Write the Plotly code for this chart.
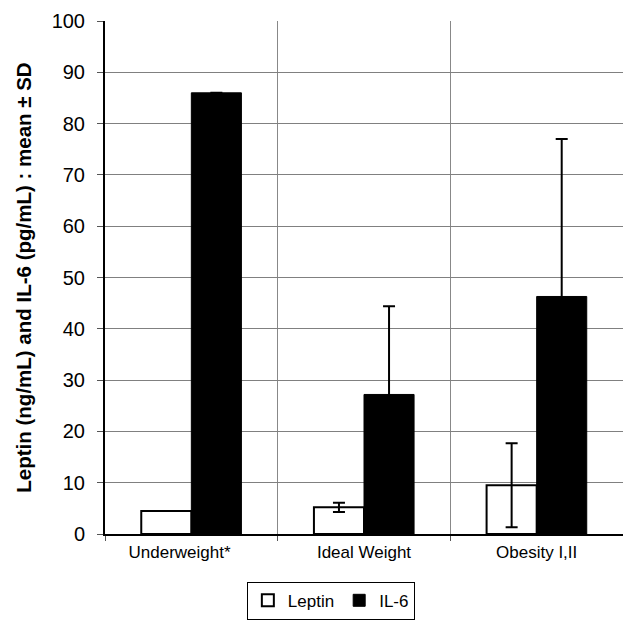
import plotly.graph_objects as go

categories = ["Underweight*", "Ideal Weight", "Obesity I,II"]
tick_labels = ["Underweight*\u00a0\u00a0\u00a0\u00a0\u00a0", "Ideal Weight", "Obesity I,II"]
leptin_mean = [4.5, 5.2, 9.5]
leptin_sd = [None, 0.9, 8.2]
il6_mean = [86, 27.2, 46.3]
il6_sd = [None, 17.2, 30.7]
y_ticks = [0, 10, 20, 30, 40, 50, 60, 70, 80, 90, 100]

fig = go.Figure()
fig.add_trace(go.Bar(
    name="Leptin", x=categories, y=leptin_mean,
    marker=dict(color="white", line=dict(color="black", width=2)),
    error_y=dict(type="data", array=leptin_sd, color="black", thickness=2, width=6),
))
fig.add_trace(go.Bar(
    name="IL-6", x=categories, y=il6_mean,
    marker=dict(color="black", line=dict(color="black", width=1)),
    error_y=dict(type="data", array=il6_sd, color="black", thickness=2, width=6),
))

fig.update_layout(
    width=623, height=621,
    margin=dict(l=105, r=0, t=21, b=87, autoexpand=False),
    plot_bgcolor="white", paper_bgcolor="white",
    barmode="group", bargap=0.42, bargroupgap=0,
    font=dict(family="Liberation Sans, Arial", color="black"),
    showlegend=True,
    legend=dict(orientation="h", x=0.436, xanchor="center",
                yref="container", y=0.002, yanchor="bottom",
                bordercolor="black", borderwidth=1, font=dict(size=17),
                itemwidth=30, tracegroupgap=0),
)
fig.update_xaxes(
    type="category", tickson="boundaries", tickmode="array",
    tickvals=categories, ticktext=tick_labels,
    showgrid=True, gridcolor="#888888", gridwidth=1,
    showline=True, linecolor="black", linewidth=2,
    ticks="outside", ticklen=5, tickcolor="#555555",
    tickfont=dict(size=17), ticklabelstandoff=2,
)
fig.update_yaxes(
    range=[0, 100], tickvals=y_ticks,
    showgrid=True, gridcolor="#808080", gridwidth=1,
    showline=True, linecolor="black", linewidth=2,
    ticks="outside", ticklen=6, tickcolor="#555555",
    tickfont=dict(size=20), ticklabelstandoff=8,
    zeroline=False,
    title=dict(text="<b>Leptin (ng/mL) and IL-6 (pg/mL) : mean ± SD</b>", font=dict(size=20.5), standoff=14),
)

fig.write_html("out.html")
